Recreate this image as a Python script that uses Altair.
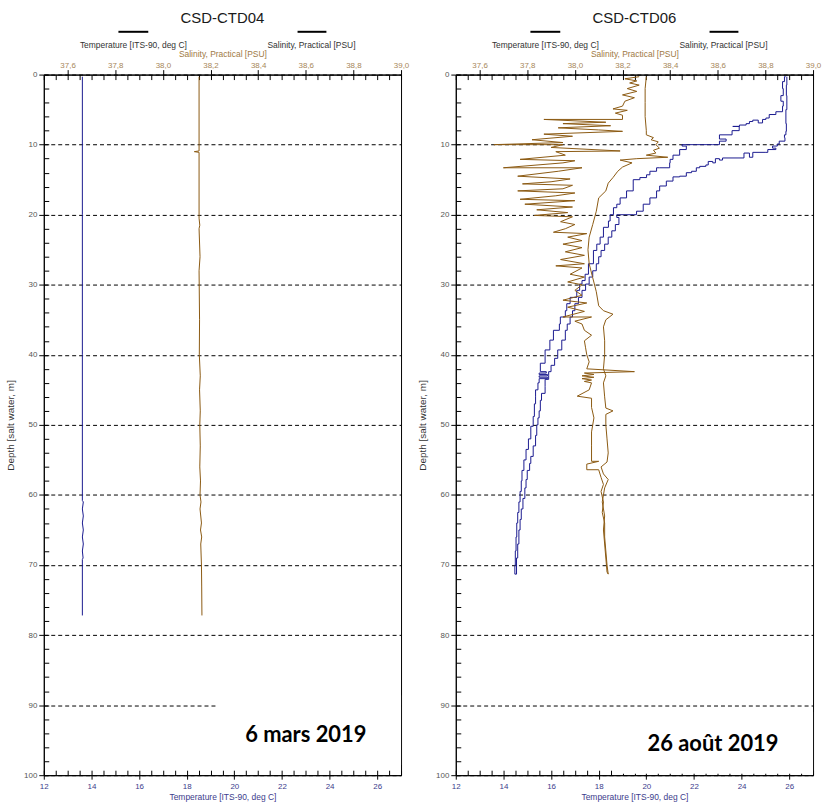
import altair as alt
import pandas as pd

FONT = "Liberation Sans"
TEMP_COLOR = "#1a1a8f"
SAL_COLOR = "#8b5a12"

# ---------------- axis tick values ----------------
temp_major_ticks = [12, 14, 16, 18, 20, 22, 24, 26]
temp_minor_ticks = [12 + 0.5 * i for i in range(31)]
sal_major_ticks = [37.6, 37.8, 38.0, 38.2, 38.4, 38.6, 38.8, 39.0]
sal_minor_ticks = [round(37.5 + 0.05 * i, 2) for i in range(31)]
depth_major_ticks = [0, 10, 20, 30, 40, 50, 60, 70, 80, 90, 100]
depth_minor_ticks = list(range(0, 101, 2))

T_DOMAIN = [12, 27]
S_DOMAIN = [37.5, 39.0]
D_DOMAIN = [0, 100]

# ---------------- CSD-CTD04 (6 mars 2019): (depth, value) ----------------
ctd04_temp = [(0.3, 13.62), (20, 13.62), (40, 13.62), (60.8, 13.62), (61, 13.66), (62, 13.62),
              (63, 13.66), (64, 13.62), (65, 13.66), (66, 13.62), (67, 13.66), (68, 13.62),
              (69, 13.65), (69.2, 13.62), (77.2, 13.62)]
ctd04_sal = [(0.3, 38.152), (10.9, 38.152), (11.0, 38.132), (11.1, 38.152), (20.5, 38.152),
             (21.5, 38.155), (22, 38.152), (26, 38.156), (28, 38.152), (35, 38.154), (40, 38.153),
             (43, 38.157), (45, 38.154), (48, 38.157), (50, 38.155), (53, 38.157), (56, 38.155),
             (58, 38.158), (60, 38.156), (61, 38.160), (62, 38.156), (64, 38.162), (65, 38.158),
             (66, 38.163), (67, 38.159), (68, 38.160), (70, 38.162), (73, 38.163), (77.2, 38.164)]

# ---------------- CSD-CTD06 (26 aout 2019): (depth, value) ----------------
ctd06_temp_down = [(0.3, 25.90), (1.5, 25.88), (3.0, 25.90), (5.0, 25.86), (7.0, 25.88), (8.1, 25.86),
                   (8.6, 25.80), (9.0, 25.82), (9.5, 25.58), (9.9, 25.50), (10.2, 25.30), (10.5, 25.44),
                   (10.7, 25.10), (11.1, 25.02), (11.1, 24.47), (11.8, 24.33), (11.2, 24.10), (11.9, 23.85),
                   (11.9, 23.20), (12.2, 23.07), (12.0, 22.90), (12.6, 22.79), (12.4, 22.60), (12.9, 22.50),
                   (13.1, 22.24), (13.3, 22.10), (13.8, 21.90), (14.0, 21.68), (14.5, 21.40), (14.6, 21.12),
                   (15.2, 20.84), (15.9, 20.56), (16.6, 20.43), (17.6, 20.15), (18.5, 19.87), (19.5, 19.59),
                   (20.0, 19.45), (20.0, 18.76), (20.4, 18.85), (21.4, 18.70), (22.3, 18.55), (23.2, 18.40),
                   (24.2, 18.25), (25.1, 18.10), (26.0, 18.00), (27.0, 17.90), (28.0, 17.75), (28.9, 17.60),
                   (29.9, 17.45), (30.8, 17.30), (31.8, 17.15), (32.7, 17.00), (33.7, 16.90), (34.6, 16.80),
                   (35.6, 16.68), (36.5, 16.60), (37.9, 16.45), (39.3, 16.28), (40.5, 16.15), (41.5, 16.00),
                   (42.4, 15.90), (43.0, 15.90), (43.5, 15.75), (44.5, 15.75), (45.5, 15.60), (46.5, 15.55),
                   (48.0, 15.50), (49.0, 15.45), (50.0, 15.40), (51.5, 15.35), (53.0, 15.25), (54.5, 15.15),
                   (55.5, 15.10), (56.5, 15.00), (57.8, 14.95), (59.0, 14.90), (60.5, 14.82), (62.0, 14.75),
                   (63.5, 14.70), (65.0, 14.65), (67.0, 14.60), (69.0, 14.55), (71.3, 14.48)]
ctd06_temp_up = [(70.0, 14.50), (68.0, 14.53), (66.0, 14.56), (64.0, 14.60), (62.5, 14.65), (61.0, 14.70),
                 (59.5, 14.75), (58.0, 14.78), (56.5, 14.86), (55.0, 14.95), (53.5, 15.05), (52.0, 15.15),
                 (50.2, 15.25), (48.8, 15.30), (47.0, 15.35), (46.0, 15.35), (45.0, 15.45), (44.0, 15.50),
                 (43.6, 15.50), (43.4, 15.85), (43.2, 15.50), (43.0, 15.85), (42.8, 15.50), (42.6, 15.80),
                 (42.4, 15.55), (41.2, 15.75), (39.3, 15.95), (37.9, 16.10), (36.5, 16.35), (35.6, 16.39),
                 (34.6, 16.60), (33.7, 16.66), (32.7, 16.80), (31.8, 17.08), (30.8, 17.20), (29.9, 17.30),
                 (29.4, 17.43), (28.5, 17.57), (27.0, 17.78), (25.1, 17.92), (24.2, 18.06), (23.2, 18.20),
                 (21.8, 18.41), (20.9, 18.48), (20.0, 18.62), (19.0, 18.76), (18.5, 18.90), (17.6, 19.17),
                 (16.6, 19.45), (15.9, 19.45), (15.0, 19.73), (14.7, 20.01), (14.3, 20.15), (13.8, 20.43),
                 (13.3, 20.56), (13.3, 20.98), (12.6, 21.00), (12.1, 21.12), (11.5, 21.40), (10.7, 21.68),
                 (10.2, 21.50), (10.0, 21.68), (10.0, 22.79), (10.0, 23.07), (9.5, 23.35), (9.2, 23.07),
                 (8.6, 23.60), (8.0, 23.90), (7.4, 23.63), (7.4, 23.91), (7.2, 24.19), (7.0, 24.33),
                 (6.7, 24.47), (6.5, 24.70), (6.9, 24.88), (6.4, 25.02), (6.2, 25.16), (5.7, 25.44),
                 (5.3, 25.72), (4.5, 25.75), (3.8, 25.65), (3.0, 25.75), (2.0, 25.72), (1.0, 25.80),
                 (0.3, 25.85)]
ctd06_sal_down = [(0.3, 38.27), (0.6, 38.21), (0.9, 38.26), (1.2, 38.23), (1.5, 38.27), (2.0, 38.22),
                  (2.4, 38.26), (2.9, 38.20), (3.3, 38.25), (3.8, 38.21), (4.5, 38.20), (4.9, 38.16),
                  (5.1, 38.22), (5.5, 38.17), (5.8, 38.20), (6.4, 38.20), (6.4, 37.87), (6.8, 38.13),
                  (7.0, 37.95), (7.3, 38.15), (7.6, 37.93), (7.9, 38.10), (8.1, 38.20), (8.5, 37.87),
                  (8.8, 37.99), (9.3, 37.82), (9.7, 37.95), (10.0, 37.66), (10.0, 37.95), (10.4, 37.90),
                  (10.9, 38.19), (11.0, 37.92), (11.5, 37.96), (12.1, 37.77), (12.3, 38.00), (12.6, 37.95),
                  (13.3, 37.70), (13.3, 38.03), (13.8, 37.93), (14.5, 37.76), (14.9, 37.98), (15.3, 37.90),
                  (15.6, 37.78), (15.8, 37.99), (16.3, 37.95), (16.6, 37.76), (16.9, 38.00), (17.3, 37.92),
                  (17.8, 37.77), (18.0, 38.00), (18.5, 37.79), (18.9, 37.99), (19.3, 37.84), (19.7, 37.97),
                  (20.1, 37.83), (20.3, 37.99), (21.0, 37.94), (21.4, 38.00), (22.0, 37.96), (22.5, 37.91),
                  (22.7, 38.05), (23.2, 37.97), (23.7, 38.03), (24.2, 37.95), (24.7, 38.03), (25.3, 37.96),
                  (25.8, 38.04), (26.4, 37.94), (27.0, 38.04), (27.3, 37.92), (27.6, 38.03), (28.5, 37.98),
                  (28.9, 38.04), (29.6, 37.97), (30.0, 38.03), (30.8, 38.00), (31.5, 38.03), (32.2, 37.95),
                  (32.6, 38.05), (33.2, 37.97), (33.8, 38.04), (34.6, 37.95), (34.6, 38.07), (35.2, 38.00),
                  (35.6, 38.03), (36.5, 38.04), (37.2, 38.07), (38.0, 38.04), (39.0, 38.045), (40.0, 38.05),
                  (41.0, 38.06), (42.0, 38.05), (42.4, 38.25), (42.6, 38.04), (42.8, 38.08), (43.0, 38.03),
                  (43.2, 38.08), (43.4, 38.03), (43.6, 38.07), (43.8, 38.04), (44.0, 38.07), (45.0, 38.06),
                  (45.9, 38.01), (46.2, 38.07), (47.5, 38.07), (49.0, 38.08), (51.0, 38.07), (53.0, 38.07),
                  (55.2, 38.07), (55.2, 38.10), (55.6, 38.05), (56.4, 38.05), (56.4, 38.10), (57.5, 38.11),
                  (58.5, 38.12), (59.5, 38.11), (61.0, 38.12), (62.5, 38.115), (64.0, 38.125), (66.0, 38.125),
                  (68.0, 38.13), (70.0, 38.135), (71.3, 38.14)]
ctd06_sal_up = [(71.0, 38.135), (69.0, 38.13), (67.0, 38.125), (65.0, 38.12), (63.0, 38.125), (61.0, 38.115),
                (59.0, 38.125), (57.8, 38.14), (57.0, 38.12), (56.0, 38.11), (55.3, 38.135), (54.0, 38.14),
                (52.0, 38.135), (50.0, 38.13), (48.5, 38.13), (48.0, 38.16), (47.6, 38.13), (46.0, 38.125),
                (44.0, 38.12), (43.0, 38.13), (42.0, 38.12), (40.0, 38.125), (38.0, 38.125), (36.0, 38.12),
                (35.0, 38.13), (34.2, 38.16), (33.7, 38.12), (33.0, 38.10), (31.0, 38.09), (29.0, 38.075),
                (27.0, 38.06), (25.0, 38.055), (23.2, 38.06), (21.4, 38.075), (19.5, 38.09), (17.6, 38.10),
                (16.6, 38.13), (15.5, 38.14), (14.7, 38.16), (13.8, 38.18), (13.2, 38.20), (12.6, 38.24),
                (12.2, 38.19), (12.0, 38.26), (11.8, 38.39), (11.5, 38.30), (11.2, 38.34), (10.8, 38.33),
                (10.5, 38.355), (10.0, 38.34), (9.6, 38.35), (9.3, 38.32), (9.0, 38.33), (8.6, 38.30),
                (8.0, 38.30), (6.0, 38.295), (4.0, 38.295), (2.0, 38.295), (0.3, 38.30)]

# annotation: (label, temperature position, depth position); white patch: (T1, T2, D1, D2)
note04 = ("6 mars 2019", 23.0, 94.3)
note06 = ("26 août 2019", 22.8, 95.5)
patch04 = (19.25, 27.0, 88.6, 98.6)
patch06 = (18.72, 27.0, 90.9, 99.8)

# ---------------- axes ----------------
comma1 = "replace(format(datum.value, '.1f'), '.', ',')"

temp_major_axis = alt.Axis(orient="bottom", values=temp_major_ticks, format="d", tickSize=4,
                           labelPadding=3, labelFontSize=8, labelFont=FONT, labelColor="#3c3c8c",
                           labelFlush=False, labelOverlap=False, title="Temperature [ITS-90, deg C]",
                           titleFont=FONT, titleFontSize=8.5, titleFontWeight="normal",
                           titleColor="#3c3c8c", titlePadding=2, domainColor="black",
                           tickColor="black", grid=False)
temp_minor_axis = alt.Axis(orient="bottom", values=temp_minor_ticks, offset=-5, tickSize=5,
                           labels=False, domain=False, title=None, grid=False, tickColor="black")
sal_major_axis = alt.Axis(orient="top", values=sal_major_ticks, labelExpr=comma1, tickSize=5,
                          labelPadding=0, labelFontSize=8, labelFont=FONT, labelColor="#a8875a",
                          labelFlush=False, labelOverlap=False, title="Salinity, Practical [PSU]",
                          titleFont=FONT, titleFontSize=8.5, titleFontWeight="normal",
                          titleColor="#a07a45", titlePadding=3, domainColor="black",
                          tickColor="black", grid=False)
sal_minor_axis = alt.Axis(orient="top", values=sal_minor_ticks, offset=-5, tickSize=5,
                          labels=False, domain=False, title=None, grid=False, tickColor="black")
depth_major_axis = alt.Axis(orient="left", values=depth_major_ticks, format="d", tickSize=5,
                            labelPadding=2, labelFontSize=8, labelFont=FONT, labelColor="#555555",
                            labelFlush=False, labelOverlap=False, title="Depth [salt water, m]",
                            titleFont=FONT, titleFontSize=10, titleFontWeight="normal",
                            titleColor="#333333", titlePadding=8, domainColor="black",
                            tickColor="black", grid=True, gridColor="black", gridOpacity=1,
                            gridDash=[4, 3], gridWidth=1)
depth_minor_axis = alt.Axis(orient="left", values=depth_minor_ticks, offset=-5, tickSize=5,
                            labels=False, domain=False, title=None, grid=False, tickColor="black")

W, H = 359, 704


def panel(name, temp_pairs, sal_pairs, t_interp, note, patch):
    tdf = pd.DataFrame(temp_pairs, columns=["depth", "temp"])
    tdf["i"] = range(len(tdf))
    sdf = pd.DataFrame(sal_pairs, columns=["depth", "sal"])
    sdf["i"] = range(len(sdf))
    t_scale = alt.Scale(domain=T_DOMAIN, nice=False, zero=False)
    s_scale = alt.Scale(domain=S_DOMAIN, nice=False, zero=False)
    d_scale = alt.Scale(domain=D_DOMAIN, nice=False, zero=False, reverse=True)

    patch_df = pd.DataFrame([patch], columns=["T1", "T2", "D1", "D2"])
    patch_layer = alt.Chart(patch_df).mark_rect(color="white").encode(
        x=alt.X("T1:Q", scale=t_scale, axis=temp_minor_axis),
        x2="T2:Q",
        y=alt.Y("D1:Q", scale=d_scale, axis=depth_minor_axis),
        y2="D2:Q",
    )
    temp_layer = alt.Chart(tdf).mark_line(color=TEMP_COLOR, strokeWidth=1, interpolate=t_interp).encode(
        x=alt.X("temp:Q", scale=t_scale, axis=temp_major_axis),
        y=alt.Y("depth:Q", scale=d_scale, axis=depth_major_axis),
        order="i:Q",
    )
    sal_layer = alt.Chart(sdf).mark_line(color=SAL_COLOR, strokeWidth=1).encode(
        x=alt.X("sal:Q", scale=s_scale, axis=sal_major_axis),
        y=alt.Y("depth:Q", scale=d_scale, axis=None),
        order="i:Q",
    )
    sal_minor_layer = alt.Chart(sdf).mark_point(opacity=0).encode(
        x=alt.X("sal:Q", scale=s_scale, axis=sal_minor_axis),
        y=alt.Y("depth:Q", scale=d_scale, axis=None),
    )
    note_df = pd.DataFrame([{"label": note[0], "T": note[1], "D": note[2]}])
    note_layer = alt.Chart(note_df).mark_text(font="Lato", fontWeight="bold", fontSize=22,
                                              color="black").encode(
        x=alt.X("T:Q", scale=t_scale, axis=None),
        y=alt.Y("D:Q", scale=d_scale, axis=None),
        text="label:N",
    )
    one = pd.DataFrame({"k": [0]})
    head_title = alt.Chart(one).mark_text(text=name, font=FONT, fontSize=15, color="#1a1a1a",
                                          fontWeight="normal", baseline="middle", align="center").encode(
        x=alt.value(W / 2), y=alt.value(-57))
    leg_line1 = alt.Chart(one).mark_rule(color="black", strokeWidth=2).encode(
        x=alt.value(75), x2=alt.value(105), y=alt.value(-43))
    leg_line2 = alt.Chart(one).mark_rule(color="black", strokeWidth=2).encode(
        x=alt.value(255), x2=alt.value(284), y=alt.value(-43))
    leg_text1 = alt.Chart(one).mark_text(text="Temperature [ITS-90, deg C]", font=FONT, fontSize=8.5,
                                         color="#333333", baseline="middle", align="center").encode(
        x=alt.value(90), y=alt.value(-30))
    leg_text2 = alt.Chart(one).mark_text(text="Salinity, Practical [PSU]", font=FONT, fontSize=8.5,
                                         color="#333333", baseline="middle", align="center").encode(
        x=alt.value(269), y=alt.value(-30))

    return alt.layer(
        patch_layer, temp_layer, sal_layer, sal_minor_layer, note_layer,
        head_title, leg_line1, leg_line2, leg_text1, leg_text2,
    ).resolve_scale(x="independent", y="independent").properties(width=W, height=H)


p04 = panel("CSD-CTD04", ctd04_temp, ctd04_sal, "linear", note04, patch04)
p06 = panel("CSD-CTD06", ctd06_temp_down + ctd06_temp_up, ctd06_sal_down + ctd06_sal_up,
            "step-before", note06, patch06)

chart = alt.hconcat(p04, p06, spacing=7).properties(
    padding={"left": 5, "top": 8, "right": 0, "bottom": 0},
    background="white",
).configure_view(stroke="black", strokeWidth=1)

chart.save("out.html", embed_options={"renderer": "svg", "actions": False})
